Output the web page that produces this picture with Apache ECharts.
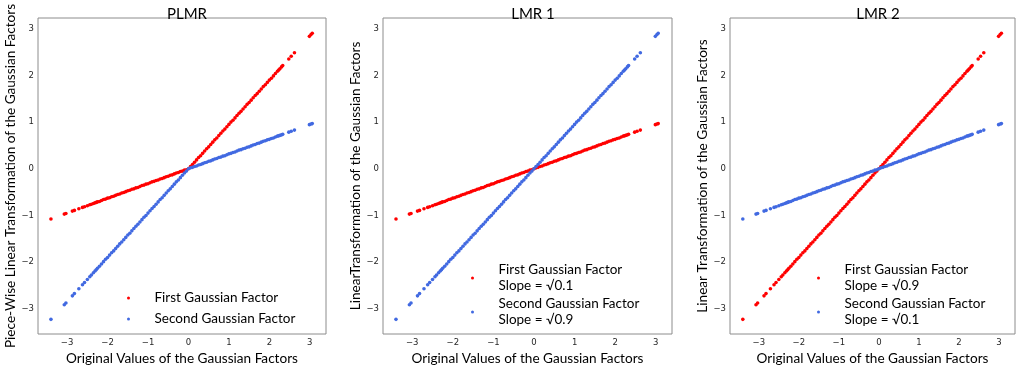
<!DOCTYPE html>
<html>
<head>
<meta charset="utf-8">
<script src="https://cdn.jsdelivr.net/npm/echarts@6/dist/echarts.min.js"></script>
<style>
html,body{margin:0;padding:0;background:#fff;}
#chart{width:1021px;height:371px;}
</style>
</head>
<body>
<div id="chart"></div>
<script>
// Original values of the Gaussian factors
var xs = [-3.40,-3.07,-3.03,-2.87,-2.82,-2.71,-2.62,-2.57,-2.50,-2.44,-2.40,-2.35,-2.31,-2.28,
-2.25,-2.20,-2.15,-2.10,-2.05,-2.00,-1.95,-1.90,-1.85,-1.80,-1.75,-1.70,-1.65,-1.60,-1.55,-1.50,-1.45,-1.40,-1.35,-1.30,-1.25,-1.20,-1.15,-1.10,-1.05,-1.00,-0.95,-0.90,-0.85,-0.80,-0.75,-0.70,-0.65,-0.60,-0.55,-0.50,-0.45,-0.40,-0.35,-0.30,-0.25,-0.20,-0.15,-0.10,-0.05,
0,
0.05,0.10,0.15,0.20,0.25,0.30,0.35,0.40,0.45,0.50,0.55,0.60,0.65,0.70,0.75,0.80,0.85,0.90,0.95,1.00,1.05,1.10,1.15,1.20,1.25,1.30,1.35,1.40,1.45,1.50,1.55,1.60,1.65,1.70,1.75,1.80,1.85,1.90,1.95,2.00,2.05,2.10,2.15,2.20,
2.23,2.26,2.30,2.33,2.48,2.54,2.62,2.99,3.03,3.06];

// Transformed values, slope sqrt(0.1)
var yLow = [-1.075,-0.971,-0.958,-0.907,-0.892,-0.857,-0.828,-0.813,-0.791,-0.772,-0.759,-0.743,-0.730,-0.721,
-0.71,-0.70,-0.68,-0.66,-0.65,-0.63,-0.62,-0.60,-0.59,-0.57,-0.55,-0.54,-0.52,-0.51,-0.49,-0.47,-0.46,-0.44,-0.43,-0.41,-0.40,-0.38,-0.36,-0.35,-0.33,-0.32,-0.30,-0.28,-0.27,-0.25,-0.24,-0.22,-0.21,-0.19,-0.17,-0.16,-0.14,-0.13,-0.11,-0.09,-0.08,-0.06,-0.05,-0.03,-0.02,
0,
0.02,0.03,0.05,0.06,0.08,0.09,0.11,0.13,0.14,0.16,0.17,0.19,0.21,0.22,0.24,0.25,0.27,0.28,0.30,0.32,0.33,0.35,0.36,0.38,0.40,0.41,0.43,0.44,0.46,0.47,0.49,0.51,0.52,0.54,0.55,0.57,0.59,0.60,0.62,0.63,0.65,0.66,0.68,0.70,
0.705,0.715,0.727,0.737,0.784,0.803,0.828,0.945,0.958,0.968];

// Transformed values, slope sqrt(0.9)
var yHigh = [-3.226,-2.912,-2.875,-2.723,-2.675,-2.571,-2.486,-2.438,-2.372,-2.315,-2.277,-2.229,-2.191,-2.163,
-2.13,-2.09,-2.04,-1.99,-1.94,-1.90,-1.85,-1.80,-1.76,-1.71,-1.66,-1.61,-1.57,-1.52,-1.47,-1.42,-1.38,-1.33,-1.28,-1.23,-1.19,-1.14,-1.09,-1.04,-1.00,-0.95,-0.90,-0.85,-0.81,-0.76,-0.71,-0.66,-0.62,-0.57,-0.52,-0.47,-0.43,-0.38,-0.33,-0.28,-0.24,-0.19,-0.14,-0.09,-0.05,
0,
0.05,0.09,0.14,0.19,0.24,0.28,0.33,0.38,0.43,0.47,0.52,0.57,0.62,0.66,0.71,0.76,0.81,0.85,0.90,0.95,1.00,1.04,1.09,1.14,1.19,1.23,1.28,1.33,1.38,1.42,1.47,1.52,1.57,1.61,1.66,1.71,1.76,1.80,1.85,1.90,1.94,1.99,2.04,2.09,
2.116,2.144,2.182,2.210,2.353,2.410,2.486,2.837,2.875,2.903];

var panelTitles = ['PLMR', 'LMR 1', 'LMR 2'];
var yAxisTitles = ['Piece-Wise Linear Transformation of the Gaussian Factors',
                   'LinearTransformation of the Gaussian Factors',
                   'Linear Transformation of the Gaussian Factors'];
var xAxisTitle = 'Original Values of the Gaussian Factors';
var seriesNames = [
  ['First Gaussian Factor', 'Second Gaussian Factor'],
  ['First Gaussian Factor\nSlope = \u221A0.1', 'Second Gaussian Factor\nSlope = \u221A0.9'],
  ['First Gaussian Factor\nSlope = \u221A0.9', 'Second Gaussian Factor\nSlope = \u221A0.1']
];
var tickValues = [-3, -2, -1, 0, 1, 2, 3];
var tickLabels = ['\u22123', '\u22122', '\u22121', '0', '1', '2', '3'];

function pts(ys) { return xs.map(function (x, i) { return [x, ys[i]]; }); }
// PLMR: first factor uses slope sqrt(0.1) below zero and sqrt(0.9) above; second the reverse
var plmrFirst = xs.map(function (x, i) { return [x, x < 0 ? yLow[i] : yHigh[i]]; });
var plmrSecond = xs.map(function (x, i) { return [x, x < 0 ? yHigh[i] : yLow[i]]; });

var panelData = [
  [plmrFirst, plmrSecond],
  [pts(yLow), pts(yHigh)],
  [pts(yHigh), pts(yLow)]
];

var RED = '#ff0000', BLUE = '#4169e1';
var FONT = 'Lato';

var grids = [
  {left: 38, right: 695, top: 18, bottom: 32},
  {left: 383, right: 349, top: 18, bottom: 32},
  {left: 730, right: 6, top: 18, bottom: 32}
];
grids.forEach(function (g) { g.show = true; g.borderColor = '#8c8c8c'; g.borderWidth = 1; g.backgroundColor = 'transparent'; });

var titleCenters = [182, 528, 873];
var yNameGaps = [17, 18, 13];
var legendLeft = [127, 471, 817];

var option = {
  animation: false,
  backgroundColor: '#fff',
  grid: grids,
  title: panelTitles.map(function (t, i) {
    return {text: t, left: titleCenters[i], top: 2, textAlign: 'center',
      textStyle: {fontFamily: FONT, fontSize: 15, fontWeight: 'normal', color: '#000'}};
  }),
  xAxis: grids.map(function (g, i) {
    return {type: 'value', gridIndex: i, min: -3.72, max: 3.40,
      name: xAxisTitle, nameLocation: 'middle', nameGap: 18,
      nameTextStyle: {fontFamily: FONT, fontSize: 13.6, color: '#000'},
      axisLine: {show: false}, axisTick: {show: false}, splitLine: {show: false},
      axisLabel: {customValues: tickValues, formatter: function (v) { return tickLabels[tickValues.indexOf(v)]; },
        fontFamily: 'DejaVu Sans', fontSize: 8.5, color: '#262626', margin: 4}};
  }),
  yAxis: grids.map(function (g, i) {
    return {type: 'value', gridIndex: i, min: -3.54, max: 3.23,
      name: yAxisTitles[i], nameLocation: 'middle', nameGap: yNameGaps[i], nameRotate: 90,
      nameTextStyle: {fontFamily: FONT, fontSize: 13.6, color: '#000'},
      axisLine: {show: false}, axisTick: {show: false}, splitLine: {show: false},
      axisLabel: {customValues: tickValues, formatter: function (v) { return tickLabels[tickValues.indexOf(v)]; },
        fontFamily: 'DejaVu Sans', fontSize: 8.5, color: '#262626', margin: 4}};
  }),
  legend: [0, 1, 2].map(function (i) {
    var single = i === 0;
    return {data: seriesNames[i], orient: 'vertical', left: legendLeft[i],
      top: single ? 290 : 262, padding: 0, itemGap: single ? 5 : 2,
      itemWidth: 42, itemHeight: 3, icon: 'circle', selectedMode: false,
      textStyle: {fontFamily: FONT, fontSize: 13.5, color: '#000', lineHeight: 16}};
  }),
  series: []
};

panelData.forEach(function (pair, i) {
  option.series.push({type: 'scatter', name: seriesNames[i][0], xAxisIndex: i, yAxisIndex: i,
    data: pair[0], symbolSize: 3.6, itemStyle: {color: RED, opacity: 1}, silent: true});
  option.series.push({type: 'scatter', name: seriesNames[i][1], xAxisIndex: i, yAxisIndex: i,
    data: pair[1], symbolSize: 3.6, itemStyle: {color: BLUE, opacity: 1}, silent: true});
});

var chart = echarts.init(document.getElementById('chart'), null, {renderer: 'canvas'});
chart.setOption(option);
</script>
</body>
</html>
